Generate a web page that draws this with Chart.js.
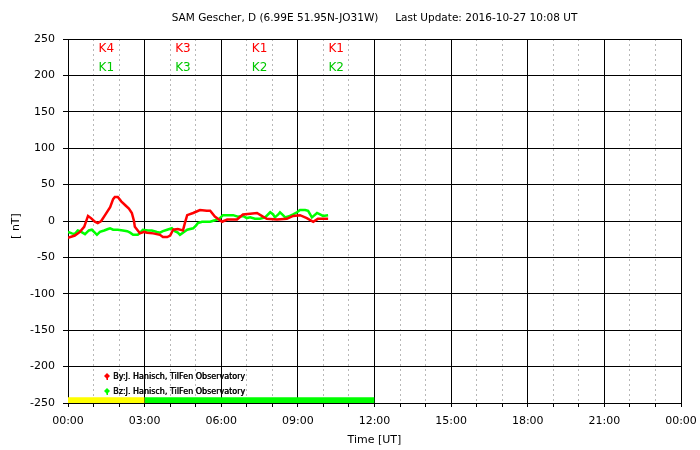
<!DOCTYPE html>
<html>
<head>
<meta charset="utf-8">
<style>
  html, body { margin: 0; padding: 0; background: #fff; }
</style>
</head>
<body>
<canvas id="myChart" width="700" height="450"></canvas>
<script src="https://cdn.jsdelivr.net/npm/chart.js"></script>
<script>

// time in minutes since 00:00 UT, values in nT
const byMinutes = [0, 16, 28, 38, 47, 54, 63, 70, 78, 87, 99, 106, 110, 117, 125, 134, 143, 150, 155, 157, 169, 179, 186, 200, 216, 223, 233, 240, 247, 258, 270, 275, 280, 294, 310, 326, 334, 345, 362, 374, 397, 411, 428, 444, 458, 467, 491, 514, 529, 545, 561, 576, 587, 611];
const byValues  = [-23, -20, -15, -8, 7, 4, -1, -3, 0, 8, 19, 30, 33, 33, 27, 22, 17, 11, 0, -8, -17, -15, -16, -17, -19, -22, -22, -20, -12, -11, -13, -2, 8, 11, 15, 14, 14, 6, -1, 2, 2, 9, 10, 11, 6, 3, 2, 3, 7, 8, 4, -1, 3, 3];

const bzMinutes = [0, 9, 16, 23, 28, 40, 49, 56, 63, 68, 75, 85, 94, 99, 106, 117, 129, 139, 146, 153, 164, 176, 188, 197, 209, 216, 223, 233, 244, 251, 258, 263, 270, 280, 294, 301, 305, 315, 334, 345, 355, 364, 388, 399, 411, 420, 428, 439, 451, 463, 475, 482, 486, 494, 498, 505, 510, 521, 529, 538, 545, 557, 564, 573, 585, 592, 599, 611];
const bzValues  = [-15, -17, -18, -13, -14, -18, -13, -12, -16, -19, -15, -13, -11, -10, -12, -12, -13, -14, -16, -19, -19, -12, -13, -13, -15, -16, -14, -12, -10, -14, -16, -19, -16, -12, -10, -6, -3, -1, -1, 1, 3, 8, 8, 6, 7, 4, 5, 3, 3, 5, 12, 9, 5, 9, 12, 8, 5, 7, 9, 12, 15, 15, 14, 5, 11, 9, 7, 8];

const kHours = [1.5, 4.5, 7.5, 10.5];
const kBy = ['K4', 'K3', 'K1', 'K1'];
const kBz = ['K1', 'K3', 'K2', 'K2'];

// status bar along the bottom (minutes)
const yellowSpan = [0, 180];
const greenSpan = [180, 720];
const barLevel = -242;

const titleText = 'SAM Gescher, D (6.99E 51.95N-JO31W)     Last Update: 2016-10-27 10:08 UT';
const legendBy = 'By:J. Hanisch, TilFen Observatory';
const legendBz = 'Bz:J. Hanisch, TilFen Observatory';

const FONT = 'DejaVu Sans';

function pts(xs, ys) {
  return xs.map(function(x, i) { return { x: x, y: ys[i] } });
}
function hhmm(v) {
  const h = Math.round(v / 60) % 24;
  return (h < 10 ? '0' : '') + h + ':00';
}

const annotate = {
  id: 'annotate',
  afterDatasetsDraw(chart) {
    const ctx = chart.ctx;
    const xs = chart.scales.x, ys = chart.scales.y;
    const area = chart.chartArea;
    ctx.save();
    ctx.font = '12px ' + FONT;
    ctx.textAlign = 'center';
    ctx.textBaseline = 'middle';
    kHours.forEach(function(h, i) {
      const px = xs.getPixelForValue(h * 60);
      ctx.fillStyle = '#ff0000';
      ctx.fillText(kBy[i], px, ys.getPixelForValue(237));
      ctx.fillStyle = '#00c800';
      ctx.fillText(kBz[i], px, ys.getPixelForValue(211));
    });

    // legend inside plot
    const rows = [[legendBy, '#ff0000', area.bottom - 27], [legendBz, '#00ff00', area.bottom - 12]];
    ctx.font = '8px ' + FONT;
    ctx.textAlign = 'left';
    rows.forEach(function(r) {
      const mx = area.left + 39, my = r[2];
      ctx.fillStyle = r[1];
      ctx.beginPath();
      ctx.moveTo(mx, my - 3);
      ctx.lineTo(mx + 3, my);
      ctx.lineTo(mx, my + 3);
      ctx.lineTo(mx - 3, my);
      ctx.closePath();
      ctx.fill();
      ctx.fillRect(mx - 0.5, my, 1.5, 4);
      ctx.fillStyle = '#000';
      ctx.fillText(r[0], mx + 6, my + 1);
      ctx.fillText(r[0], mx + 6.4, my + 1);
    });
    ctx.restore();
  },
  afterDraw(chart) {
    const ctx = chart.ctx;
    const area = chart.chartArea;
    const cx = (area.left + area.right) / 2;
    ctx.save();
    ctx.fillStyle = '#000';
    ctx.textAlign = 'center';
    ctx.textBaseline = 'middle';
    ctx.font = '10.5px ' + FONT;
    ctx.fillText(titleText, cx, 18);
    ctx.font = '11px ' + FONT;
    ctx.fillText('Time [UT]', cx, 440);
    ctx.translate(16, 226);
    ctx.rotate(-Math.PI / 2);
    ctx.fillText('[ nT]', 0, 0);
    ctx.restore();
  }
};

const config = {
  type: 'line',
  data: {
    datasets: [
      {
        label: 'By',
        data: pts(byMinutes, byValues),
        borderColor: '#ff0000',
        borderWidth: 2.5,
        pointRadius: 0,
        tension: 0
      },
      {
        label: 'Bz',
        data: pts(bzMinutes, bzValues),
        borderColor: '#00ff00',
        borderWidth: 2.5,
        pointRadius: 0,
        tension: 0
      },
      {
        label: 'status1',
        data: pts(yellowSpan, [barLevel, barLevel]),
        borderWidth: 0,
        borderColor: 'rgba(0,0,0,0)',
        backgroundColor: '#ffff00',
        fill: 'start',
        pointRadius: 0
      },
      {
        label: 'status2',
        data: pts(greenSpan, [barLevel, barLevel]),
        borderWidth: 0,
        borderColor: 'rgba(0,0,0,0)',
        backgroundColor: '#00ff00',
        fill: 'start',
        pointRadius: 0
      }
    ]
  },
  options: {
    responsive: false,
    devicePixelRatio: 1,
    animation: false,
    events: [],
    layout: { padding: { top: 39, right: 19, left: 0, bottom: 0 } },
    plugins: {
      legend: { display: false },
      tooltip: { enabled: false },
      title: { display: false }
    },
    scales: {
      x: {
        type: 'linear',
        position: 'bottom',
        min: 0,
        max: 1440,
        afterFit: function(s) { s.height = 47; s.paddingLeft = 0; s.paddingRight = 0; },
        border: { color: '#000', width: 1 },
        grid: {
          color: function(c) { return c.tick && c.tick.value % 180 === 0 ? '#000' : 'rgba(0,0,0,0)'; },
          tickColor: '#000',
          tickLength: 4,
          lineWidth: 1
        },
        ticks: {
          stepSize: 60,
          autoSkip: false,
          maxRotation: 0,
          padding: 8,
          color: '#000',
          font: { family: FONT, size: 11 },
          callback: function(v) { return v % 180 === 0 ? hhmm(v) : ''; }
        }
      },
      x2: {
        type: 'linear',
        position: 'bottom',
        min: 0,
        max: 1440,
        afterFit: function(s) { s.height = 0; s.paddingLeft = 0; s.paddingRight = 0; },
        border: { display: false, dash: [2, 3] },
        grid: {
          color: function(c) { return c.tick && c.tick.value % 180 === 0 ? 'rgba(0,0,0,0)' : '#b8b8b8'; },
          drawTicks: false,
          lineWidth: 1
        },
        ticks: { display: false, stepSize: 60, autoSkip: false }
      },
      y: {
        min: -250,
        max: 250,
        afterFit: function(s) { s.width = 68; s.paddingTop = 0; s.paddingBottom = 0; },
        border: { color: '#000', width: 1 },
        grid: { color: '#000', tickColor: '#000', tickLength: 5, lineWidth: 1 },
        ticks: {
          stepSize: 50,
          padding: 8,
          color: '#000',
          font: { family: FONT, size: 11 }
        }
      }
    }
  },
  plugins: [annotate]
};

new Chart('myChart', config);

</script>
</body>
</html>
